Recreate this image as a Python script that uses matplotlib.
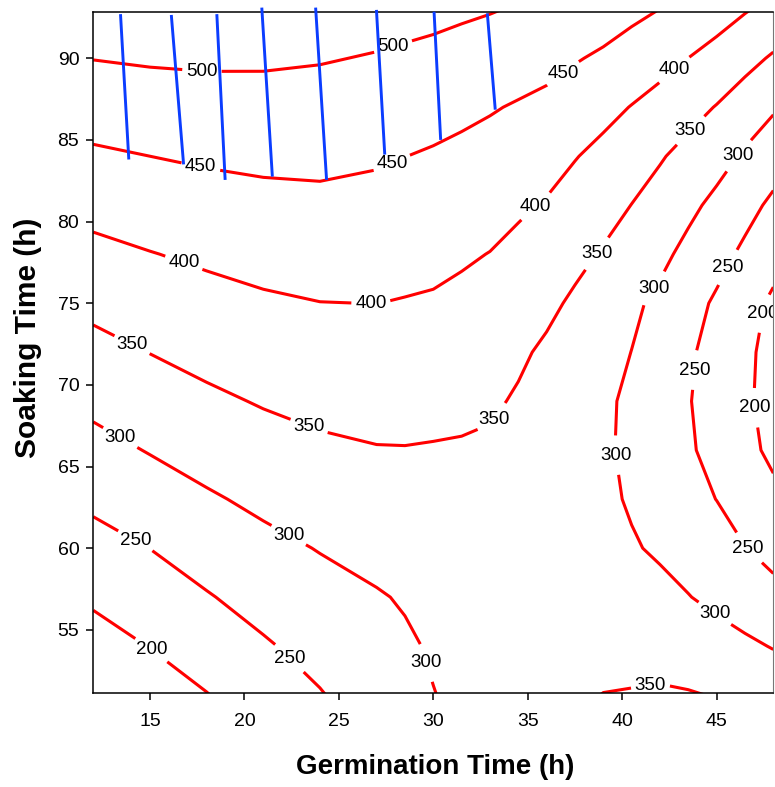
import numpy as np
import matplotlib
matplotlib.use("Agg")
import matplotlib.pyplot as plt

plt.rcParams['font.family'] = ['Liberation Sans', 'DejaVu Sans']

# ---- data ----
germination = [12, 15, 18, 21, 24, 27, 28.5, 30, 31.5, 33, 34.5, 36, 37.5, 39, 40.5, 42, 43.5, 45, 46.5, 48]
soaking = [51, 54, 57, 60, 63, 66, 69, 72, 75, 78, 81, 84, 87, 90, 93]

# response values, one row per soaking time, one column per germination time
z_s51 = [154, 176.6, 198.4, 223.6, 247.3, 273, 286, 299, 307.5, 316, 324.5, 333, 342, 351, 353, 355, 353, 348, 340, 332]
z_s54 = [181, 201.2, 222.6, 245, 265.5, 284.9, 294.5, 304, 311, 318, 322, 326, 329, 332, 332.5, 333, 326, 319, 308.4, 297.7]
z_s57 = [207, 225.8, 246.8, 266.4, 283.6, 296.8, 303.4, 310, 315, 320, 321.5, 323, 321, 319, 316.5, 314, 301.5, 289, 276.3, 263.6]
z_s60 = [233, 250.4, 270.6, 287.9, 302, 312.9, 315.5, 318, 321, 324, 324, 324, 320, 316, 304.5, 293, 281.7, 270.3, 251, 235.5]
z_s63 = [259.5, 276.5, 294.4, 309.6, 322.1, 330.4, 330.2, 330, 331, 332, 330, 328, 319, 310, 295, 280, 264.7, 249.4, 230.4, 211.3]
z_s66 = [285.3, 302.4, 318, 331.6, 342.3, 348, 348.5, 347, 346, 343, 338.5, 334, 320.5, 307, 290, 273.3, 255.5, 236, 213, 190]
z_s69 = [310.8, 326.6, 341.4, 353.4, 361.6, 365.4, 364.6, 363.7, 360, 356.2, 345.5, 338, 323.5, 309, 290.2, 271.5, 252.5, 230.6, 207.3, 184]
z_s72 = [335.8, 350.8, 363.7, 373.6, 380.5, 382.8, 381.2, 379.5, 375, 370.5, 356.75, 343, 329.5, 316, 299.5, 278.2, 256.2, 234.1, 209.6, 185]
z_s75 = [361.4, 374.6, 385.3, 393.9, 399.4, 400.3, 397.8, 395.3, 390, 384.8, 372.3, 359.8, 342.9, 326, 308.1, 290.2, 266.9, 243.5, 217.8, 192]
z_s78 = [387.7, 398.4, 407.6, 415.3, 419.6, 418.4, 415.1, 411.8, 405.4, 399, 388.5, 378, 362, 346, 328.3, 310.6, 288.1, 265.6, 241, 216.4]
z_s81 = [415, 424.1, 431.6, 437.2, 439.9, 436.4, 432.6, 428.7, 422.7, 416.7, 406.5, 396.3, 381.7, 367, 349.4, 331.7, 310.4, 289, 265, 241]
z_s84 = [443, 450, 455.9, 459.7, 460.6, 455.2, 450.4, 445.5, 440, 434.5, 426, 417.4, 402, 388, 371, 354, 335.4, 316.7, 293.9, 271.1]
z_s87 = [471.8, 477.5, 481.4, 482.9, 481.7, 476.2, 471.4, 466.5, 459.9, 453.3, 446.2, 439.1, 426, 413, 398.4, 383.7, 365.8, 347.9, 326.6, 305.3]
z_s90 = [501, 505, 506.8, 506.2, 502.8, 497.2, 493.2, 489.1, 483.5, 477.9, 470.8, 463.6, 453.3, 443, 429.3, 415.5, 399.8, 384.1, 364.4, 344.7]
z_s93 = [529, 532.7, 532.3, 529.5, 523.8, 518.2, 514.9, 511.6, 507, 502.5, 496.7, 490.9, 482, 473, 461.4, 449.7, 434.9, 420, 403.5, 387]

levels = [200, 250, 300, 350, 400, 450, 500]

# overlay region segments (blue lines)
hatch_x_top = [13.44, 16.13, 18.54, 20.92, 23.77, 26.99, 30.04, 32.86]
hatch_y_top = [92.7, 92.65, 92.7, 93.1, 93.1, 92.96, 92.85, 92.75]
hatch_x_bottom = [13.88, 16.78, 18.98, 21.48, 24.35, 27.43, 30.39, 33.28]
hatch_y_bottom = [83.8, 83.5, 82.55, 82.75, 82.55, 84.1, 85.0, 86.85]

x_ticks = [15, 20, 25, 30, 35, 40, 45]
y_ticks = [55, 60, 65, 70, 75, 80, 85, 90]

# label anchor positions (layout)
label_positions = [
    (17.75, 89.2), (27.9, 90.6),
    (17.7, 83.4), (27.8, 83.6), (36.85, 89.1),
    (16.8, 77.5), (26.7, 74.9), (35.45, 80.9), (42.75, 89.3),
    (14.05, 72.45), (23.4, 67.4), (33.2, 67.9), (38.7, 78.0), (43.6, 85.6), (41.5, 51.6),
    (13.44, 66.8), (22.3, 60.7), (29.7, 53.0), (41.7, 75.9), (46.1, 84.1), (39.7, 65.7), (44.9, 56.0),
    (14.2, 60.4), (22.5, 53.4), (45.5, 77.25), (43.9, 70.9), (46.6, 59.9),
    (15.1, 53.8), (47.4, 74.4), (47.05, 68.6),
]

Z = np.array([z_s51, z_s54, z_s57, z_s60, z_s63, z_s66, z_s69, z_s72,
              z_s75, z_s78, z_s81, z_s84, z_s87, z_s90, z_s93])

fig = plt.figure(figsize=(7.75, 7.87), dpi=100)
ax = fig.add_axes([93.3 / 775, 1 - 692.7 / 787, (773.3 - 93.3) / 775, (692.7 - 11.7) / 787])

cs = ax.contour(germination, soaking, Z, levels=levels, colors='#ff0000', linewidths=2.2)
texts = ax.clabel(cs, levels=levels, fmt='%d', manual=label_positions, inline=True,
                  inline_spacing=4, fontsize=13.5, colors='black')
for t in texts:
    t.set_rotation(0)

for xt, yt, xb, yb in zip(hatch_x_top, hatch_y_top, hatch_x_bottom, hatch_y_bottom):
    ax.plot([xt, xb], [yt, yb], color='#0b3dff', lw=2.1, solid_capstyle='butt',
            clip_on=False, zorder=5)

ax.set_xlim(12, 48)
ax.set_ylim(51.15, 92.85)
ax.set_xticks(x_ticks)
ax.set_yticks(y_ticks)
ax.tick_params(direction='out', length=4.8, width=1.1, labelsize=14, colors='black')
ax.tick_params(axis='x', pad=10)
ax.tick_params(axis='y', pad=5.3)
for side in ['left', 'bottom', 'top']:
    ax.spines[side].set_linewidth(1.1)
    ax.spines[side].set_color('black')
ax.spines['right'].set_linewidth(0.8)
ax.spines['right'].set_color('#777777')

fig.text(435 / 775, 1 - 767 / 787, 'Germination Time (h)', fontsize=20, fontweight='bold',
         ha='center', va='center')
fig.text(28 / 775, 1 - 338 / 787, 'Soaking Time (h)', fontsize=21.5, fontweight='bold',
         ha='center', va='center', rotation=90)

fig.savefig('out.png', dpi=100)
